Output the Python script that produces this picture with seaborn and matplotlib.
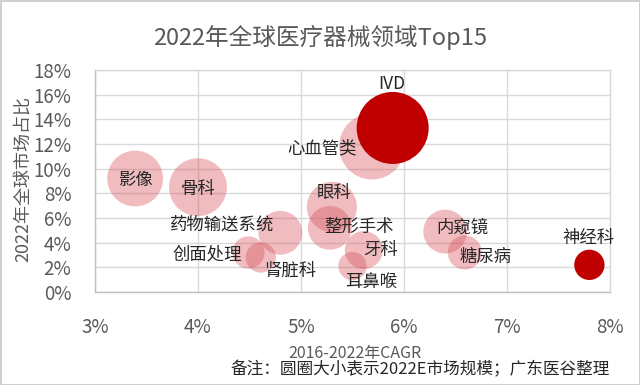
import matplotlib
matplotlib.use("Agg")
import matplotlib.pyplot as plt
import matplotlib.ticker as mticker
import pandas as pd
import seaborn as sns

names = ["影像", "骨科", "药物输送系统", "创面处理", "肾脏科", "心血管类", "眼科",
         "整形手术", "牙科", "耳鼻喉", "内窥镜", "糖尿病", "IVD", "神经科"]
cagr = [3.39, 4.0, 4.8, 4.49, 4.61, 5.69, 5.3, 5.28, 5.61, 5.5, 6.4, 6.59, 5.89, 7.8]
share = [9.2, 8.5, 4.8, 3.2, 2.8, 11.8, 6.9, 5.2, 3.4, 2.1, 4.9, 3.2, 13.3, 2.2]
market = [78, 84, 48, 26, 23, 109, 63, 48, 36, 20, 48, 29, 130, 23]
highlight = [False] * 12 + [True, True]

x_ticks = [3, 4, 5, 6, 7, 8]
y_ticks = [0, 2, 4, 6, 8, 10, 12, 14, 16, 18]

# label offsets from bubble centre, in pixels
label_offsets = {
    "影像": (0, -1), "骨科": (0, -2), "药物输送系统": (-58, 8), "创面处理": (-41, -2),
    "肾脏科": (29, -13), "心血管类": (-50, -2), "眼科": (2, 14), "整形手术": (29, 1),
    "牙科": (17, 0), "耳鼻喉": (19, -16), "内窥镜": (17, 4), "糖尿病": (21, -4),
    "IVD": (-1, 44), "神经科": (-1, 27),
}

df = pd.DataFrame({"name": names, "cagr": cagr, "share": share,
                   "market": market, "highlight": highlight})

sns.set_style("white")
plt.rcParams["font.family"] = ["Noto Sans CJK SC", "DejaVu Sans"]

GRAY = "#595959"
GRID = "#D9D9D9"

fig = plt.figure(figsize=(6.4, 3.85), dpi=100, edgecolor="#D0D0D0", linewidth=2)
ax = fig.add_axes([0.1484, 0.2416, 0.8047, 0.5766])

size_norm = (0, 130)
size_range = (0, 2690)
sns.scatterplot(data=df[~df["highlight"]], x="cagr", y="share", size="market",
                sizes=size_range, size_norm=size_norm, color="#D8505A",
                alpha=0.38, linewidth=0, legend=False, ax=ax, zorder=3)
sns.scatterplot(data=df[df["highlight"]], x="cagr", y="share", size="market",
                sizes=size_range, size_norm=size_norm, color="#C00000",
                alpha=1, linewidth=0, legend=False, ax=ax, zorder=4)

for _, row in df.iterrows():
    dx, dy = label_offsets[row["name"]]
    ax.annotate(row["name"], xy=(row["cagr"], row["share"]), xytext=(dx, dy),
                textcoords="offset pixels", ha="center", va="center",
                fontsize=12.5, color="#262626", zorder=5)

ax.set_xlim(3, 8)
ax.set_ylim(0, 18)
ax.set_xticks(x_ticks)
ax.set_yticks(y_ticks)
ax.xaxis.set_major_formatter(mticker.StrMethodFormatter("{x:.0f}%"))
ax.yaxis.set_major_formatter(mticker.StrMethodFormatter("{x:.0f}%"))
ax.tick_params(axis="x", length=0, pad=18, labelsize=13.5, labelcolor=GRAY)
ax.tick_params(axis="y", length=0, pad=17, labelsize=13.5, labelcolor=GRAY)
ax.grid(True, color=GRID, linewidth=1)
ax.set_axisbelow(True)
for side, sp in ax.spines.items():
    sp.set_color(GRID)
    sp.set_linewidth(1)
ax.spines["left"].set_color("#BFBFBF")
ax.spines["bottom"].set_color("#BFBFBF")

ax.set_xlabel("2016-2022年CAGR", fontsize=11.5, color=GRAY)
ax.xaxis.set_label_coords(0.505, -0.275)
ax.xaxis.label.set_verticalalignment("center")
ax.set_ylabel("2022年全球市场占比", fontsize=13, color=GRAY)
ax.yaxis.set_label_coords(-0.14, 0.51)
ax.yaxis.label.set_verticalalignment("center")

fig.text(0.5, 0.904, "2022年全球医疗器械领域Top15", ha="center", va="center",
         fontsize=17, color=GRAY)
fig.text(0.953, 0.039, "备注：圆圈大小表示2022E市场规模；广东医谷整理", ha="right",
         va="center", fontsize=12, color="#262626")

fig.savefig("out.png", dpi=100, edgecolor=fig.get_edgecolor())
